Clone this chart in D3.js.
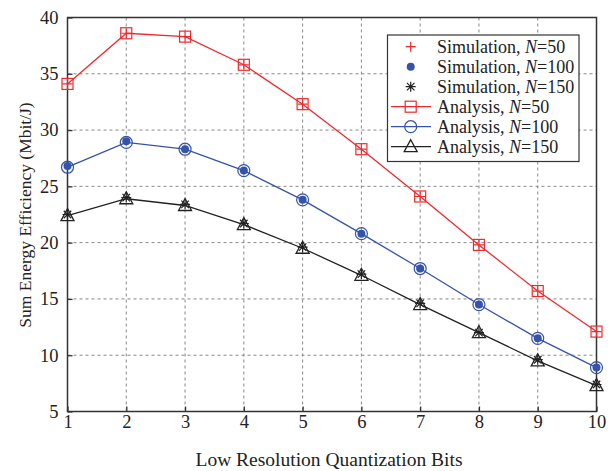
<!DOCTYPE html>
<html>
<head>
<meta charset="utf-8">
<script src="https://cdn.jsdelivr.net/npm/d3@7"></script>
<style>
  body { margin: 0; background: #fff; }
  text { font-family: "Liberation Serif", "Times New Roman", serif; fill: #222; }
</style>
</head>
<body>
<div id="chart"></div>
<script>
// quantization bits on the x axis
let bits = [1, 2, 3, 4, 5, 6, 7, 8, 9, 10];

// analysis curves (simulation points sit on top of them)
let ana50  = [34.1, 38.6, 38.3, 35.8, 32.3, 28.3, 24.1, 19.8, 15.7, 12.1];
let ana100 = [26.7, 28.9, 28.3, 26.4, 23.8, 20.8, 17.7, 14.5, 11.5, 8.9];
let ana150 = [22.4, 23.9, 23.3, 21.6, 19.5, 17.1, 14.5, 12.0, 9.5, 7.3];

let sim50  = [34.1, 38.6, 38.3, 35.8, 32.3, 28.3, 24.1, 19.8, 15.7, 12.1];
let sim100 = [26.8, 29.0, 28.3, 26.4, 23.8, 20.8, 17.7, 14.5, 11.5, 8.9];
let sim150 = [22.5, 24.0, 23.4, 21.7, 19.6, 17.2, 14.6, 12.0, 9.6, 7.4];

let yTicks = [5, 10, 15, 20, 25, 30, 35, 40];

let width = 610, height = 471;
let padL = 67.5, padR = 596.5, padT = 17.5, padB = 411.5;

let red = "#ee2a2e", blue = "#3553a8", black = "#222222";
let serif = "'Liberation Serif', 'Times New Roman', serif";

let svg = d3.select("#chart").append("svg")
  .attr("width", width).attr("height", height);

let x = d3.scaleLinear().domain([1, 10]).range([padL, padR]);
let y = d3.scaleLinear().domain([5, 40]).range([padB, padT]);

// grid
let grid = svg.append("g");
grid.selectAll("line.gx").data(bits.slice(1, -1)).enter().append("line")
  .attr("x1", d => x(d)).attr("x2", d => x(d))
  .attr("y1", padT).attr("y2", padB)
  .attr("stroke", "#888").attr("stroke-width", 1).attr("stroke-dasharray", "3,3");
grid.selectAll("line.gy").data(yTicks.slice(1, -1)).enter().append("line")
  .attr("x1", padL).attr("x2", padR)
  .attr("y1", d => y(d)).attr("y2", d => y(d))
  .attr("stroke", "#888").attr("stroke-width", 1).attr("stroke-dasharray", "3,3");

// axes with inward ticks
let xAxis = d3.axisBottom(x).tickValues(bits).tickSizeInner(-5).tickSizeOuter(0).tickPadding(3);
let yAxis = d3.axisLeft(y).tickValues(yTicks).tickSizeInner(-5).tickSizeOuter(0).tickPadding(9);

let gx = svg.append("g").attr("transform", "translate(0," + padB + ")").call(xAxis);
let gy = svg.append("g").attr("transform", "translate(" + padL + ",0)").call(yAxis);
[gx, gy].forEach(g => {
  g.attr("font-family", serif);
  g.select(".domain").remove();
  g.selectAll("line").attr("stroke", "#333").attr("stroke-width", 1.3);
  g.selectAll("text").style("font-size", "18.5px").attr("fill", "#222")
    .style("font-family", serif);
});

// frame
svg.append("rect")
  .attr("x", padL).attr("y", padT)
  .attr("width", padR - padL).attr("height", padB - padT)
  .attr("fill", "none").attr("stroke", "#333").attr("stroke-width", 1.5);

// axis labels
svg.append("text")
  .attr("x", 329).attr("y", 466)
  .attr("text-anchor", "middle").style("font-size", "19.5px")
  .text("Low Resolution Quantization Bits");
svg.append("text")
  .attr("transform", "translate(31,215) rotate(-90)")
  .attr("text-anchor", "middle").style("font-size", "17.5px")
  .text("Sum Energy Efficiency (Mbit/J)");

// marker drawing helpers
function square(g, cx, cy, c) {
  g.append("rect").attr("x", cx - 5.5).attr("y", cy - 5.5).attr("width", 11).attr("height", 11)
    .attr("fill", "none").attr("stroke", c).attr("stroke-width", 1.2);
}
function circle(g, cx, cy, c) {
  g.append("circle").attr("cx", cx).attr("cy", cy).attr("r", 6)
    .attr("fill", "none").attr("stroke", c).attr("stroke-width", 1.2);
}
function triangle(g, cx, cy, c) {
  g.append("path")
    .attr("d", "M" + cx + "," + (cy - 7) + "L" + (cx + 6.5) + "," + (cy + 5) + "L" + (cx - 6.5) + "," + (cy + 5) + "Z")
    .attr("fill", "none").attr("stroke", c).attr("stroke-width", 1.3);
}
function plus(g, cx, cy, c) {
  g.append("path").attr("d", "M" + (cx - 5) + "," + cy + "H" + (cx + 5) + "M" + cx + "," + (cy - 5) + "V" + (cy + 5))
    .attr("stroke", c).attr("stroke-width", 1.2);
}
function dot(g, cx, cy, c) {
  g.append("circle").attr("cx", cx).attr("cy", cy).attr("r", 4).attr("fill", c);
}
function star(g, cx, cy, c) {
  let s = 5;
  g.append("path")
    .attr("d", "M" + (cx - s) + "," + cy + "H" + (cx + s) +
      "M" + cx + "," + (cy - s) + "V" + (cy + s) +
      "M" + (cx - s * 0.75) + "," + (cy - s * 0.75) + "L" + (cx + s * 0.75) + "," + (cy + s * 0.75) +
      "M" + (cx + s * 0.75) + "," + (cy - s * 0.75) + "L" + (cx - s * 0.75) + "," + (cy + s * 0.75))
    .attr("stroke", c).attr("stroke-width", 1.2);
}

let series = [
  { ana: ana50,  sim: sim50,  color: red,   mk: square,   sm: plus },
  { ana: ana100, sim: sim100, color: blue,  mk: circle,   sm: dot },
  { ana: ana150, sim: sim150, color: black, mk: triangle, sm: star }
];

let line = d3.line().x((d, i) => x(bits[i])).y(d => y(d));

let plot = svg.append("g");
series.forEach(s => {
  plot.append("path").datum(s.ana).attr("d", line)
    .attr("fill", "none").attr("stroke", s.color).attr("stroke-width", 1.3);
  s.ana.forEach((v, i) => s.mk(plot, x(bits[i]), y(v), s.color));
  s.sim.forEach((v, i) => s.sm(plot, x(bits[i]), y(v), s.color));
});

// legend
let lg = svg.append("g");
lg.append("rect").attr("x", 387.5).attr("y", 35).attr("width", 191.5).attr("height", 126.5)
  .attr("fill", "#fff").attr("stroke", "#333").attr("stroke-width", 1.2);

let legendItems = [
  { label: "Simulation, ", n: "50",  color: red,   draw: plus,     line: false },
  { label: "Simulation, ", n: "100", color: blue,  draw: dot,      line: false },
  { label: "Simulation, ", n: "150", color: black, draw: star,     line: false },
  { label: "Analysis, ",   n: "50",  color: red,   draw: square,   line: true },
  { label: "Analysis, ",   n: "100", color: blue,  draw: circle,   line: true },
  { label: "Analysis, ",   n: "150", color: black, draw: triangle, line: true }
];

legendItems.forEach((d, i) => {
  let cy = 46.7 + i * 20;
  if (d.line) {
    lg.append("line").attr("x1", 391).attr("x2", 431).attr("y1", cy).attr("y2", cy)
      .attr("stroke", d.color).attr("stroke-width", 1.3);
  }
  d.draw(lg, 410.7, cy, d.color);
  let t = lg.append("text").attr("x", 437).attr("y", cy + 6.5).style("font-size", "18px");
  t.append("tspan").text(d.label);
  t.append("tspan").style("font-style", "italic").text("N");
  t.append("tspan").text("=" + d.n);
});
</script>
</body>
</html>
